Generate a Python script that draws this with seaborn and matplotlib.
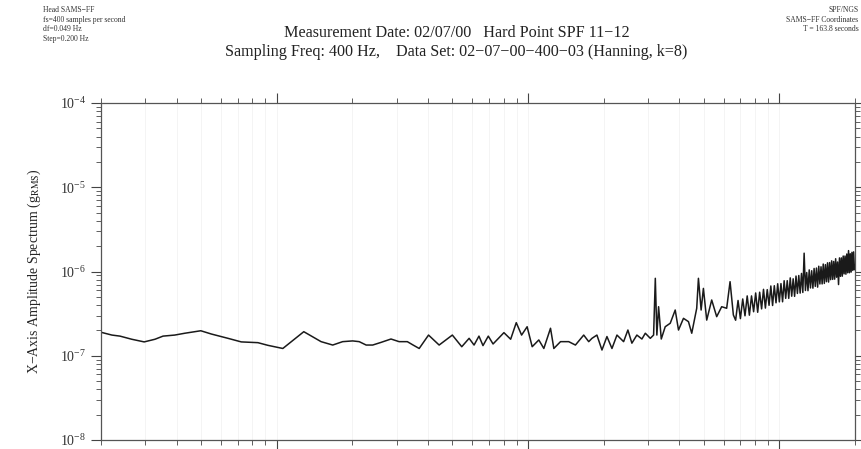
import pandas as pd
import matplotlib
matplotlib.use("Agg")
import matplotlib.pyplot as plt
import seaborn as sns
from matplotlib.ticker import LogLocator, NullFormatter

# Frequencias (Hz) e amplitude (g_RMS)
freq_low = [0.2, 0.221, 0.238, 0.265, 0.297, 0.328, 0.353, 0.393, 0.431, 0.472,
            0.499, 0.55, 0.64, 0.723, 0.842, 0.922, 1.058, 1.282, 1.502, 1.671,
            1.83, 2.006, 2.13, 2.27, 2.41, 2.60, 2.85, 3.07, 3.31, 3.49,
            3.69, 4.02, 4.43, 5.00, 5.45, 5.83, 6.10, 6.38, 6.62, 6.95,
            7.26, 8.02, 8.53, 8.98, 9.43, 9.92, 10.39, 11.04, 11.56, 12.29,
            12.67, 13.47, 14.52, 15.44, 16.66, 17.44]
amp_low = [1.90e-7, 1.76e-7, 1.71e-7, 1.57e-7, 1.46e-7, 1.57e-7, 1.71e-7, 1.76e-7, 1.85e-7, 1.93e-7,
           1.98e-7, 1.81e-7, 1.61e-7, 1.46e-7, 1.43e-7, 1.33e-7, 1.22e-7, 1.93e-7, 1.47e-7, 1.34e-7,
           1.47e-7, 1.50e-7, 1.47e-7, 1.34e-7, 1.34e-7, 1.44e-7, 1.58e-7, 1.47e-7, 1.47e-7, 1.34e-7,
           1.22e-7, 1.76e-7, 1.34e-7, 1.76e-7, 1.28e-7, 1.61e-7, 1.34e-7, 1.71e-7, 1.32e-7, 1.71e-7,
           1.38e-7, 1.88e-7, 1.57e-7, 2.47e-7, 1.76e-7, 2.21e-7, 1.28e-7, 1.54e-7, 1.22e-7, 2.12e-7,
           1.22e-7, 1.47e-7, 1.47e-7, 1.34e-7, 1.76e-7, 1.47e-7]

freq_mid = [17.97, 18.80, 19.69, 20.61, 21.58, 22.59, 24.01, 24.97, 25.90, 27.11,
            28.39, 29.29, 30.66, 31.60, 32.10, 32.56, 33.08, 33.90, 35.15, 36.80,
            38.52, 39.70, 41.55, 43.49, 44.82, 46.91, 47.65, 48.84, 49.87, 51.41,
            53.81, 56.33, 58.96, 61.72, 63.67, 65.62]
amp_mid = [1.61e-7, 1.76e-7, 1.17e-7, 1.69e-7, 1.22e-7, 1.76e-7, 1.47e-7, 2.02e-7, 1.41e-7, 1.76e-7,
           1.58e-7, 1.85e-7, 1.61e-7, 1.76e-7, 8.3e-7, 1.76e-7, 3.82e-7, 1.58e-7, 2.21e-7, 2.43e-7,
           3.49e-7, 2.02e-7, 2.78e-7, 2.54e-7, 1.85e-7, 3.66e-7, 8.3e-7, 3.49e-7, 6.3e-7, 2.65e-7,
           4.59e-7, 2.91e-7, 3.82e-7, 3.66e-7, 7.57e-7, 3.05e-7]

freq_high = [67, 68.5, 70, 71.5, 73, 74.5, 76, 77.5, 79, 80.5,
             82, 83.5, 85, 86.5, 88, 89.5, 91, 92.5, 94, 95.5,
             97, 98.5, 100, 101.5, 103, 104.5, 106, 107.5, 109, 110.5,
             112, 113.5, 115, 116.5, 118, 119.5, 121, 122.5, 124, 125.5,
             127, 128.5, 130, 131.5, 133, 134.5, 136, 137.5, 139, 140.5,
             142, 143.5, 145, 146.5, 148, 149.5, 151, 152.5, 154, 155.5,
             157, 158.5, 160, 161.5, 163, 164.5, 166, 167.5, 169, 170.5,
             172, 173.5, 175, 176.5, 178, 179.5, 181, 182.5, 184, 185.5,
             187, 188.5, 190, 191.5, 193, 194.5, 196, 197.5, 199, 200]
amp_high = [2.64e-7, 4.53e-7, 2.76e-7, 4.72e-7, 2.98e-7, 5.13e-7, 3.03e-7, 5.13e-7, 3.33e-7, 5.56e-7,
            3.28e-7, 5.68e-7, 3.60e-7, 6.14e-7, 3.68e-7, 6.09e-7, 3.97e-7, 6.73e-7, 3.95e-7, 6.78e-7,
            4.25e-7, 7.15e-7, 4.36e-7, 7.18e-7, 4.37e-7, 7.77e-7, 4.80e-7, 7.78e-7, 4.80e-7, 8.40e-7,
            5.09e-7, 8.19e-7, 5.07e-7, 8.83e-7, 5.49e-7, 8.96e-7, 5.54e-7, 9.48e-7, 5.64e-7, 1.65e-6,
            5.95e-7, 9.73e-7, 5.92e-7, 1.045e-6, 6.38e-7, 1.021e-6, 6.34e-7, 1.087e-6, 6.66e-7, 1.099e-6,
            6.52e-7, 1.155e-6, 7.11e-7, 1.138e-6, 7.12e-7, 1.226e-6, 7.22e-7, 1.206e-6, 7.57e-7, 1.268e-6,
            7.49e-7, 1.276e-6, 8.00e-7, 1.339e-6, 8.06e-7, 1.315e-6, 8.11e-7, 1.417e-6, 8.55e-7, 1.297e-6,
            7.00e-7, 1.45e-6, 8.76e-7, 1.45e-6, 8.79e-7, 1.526e-6, 9.38e-7, 1.526e-6, 9.29e-7, 1.613e-6,
            9.66e-7, 1.77e-6, 9.66e-7, 1.624e-6, 9.84e-7, 1.69e-6, 1.03e-6, 1.71e-6, 1.05e-6, 1.20e-6]

title_1 = "Measurement Date: 02/07/00   Hard Point SPF 11\u221212"
title_2 = "Sampling Freq: 400 Hz,    Data Set: 02\u221207\u221200\u2212400\u221203 (Hanning, k=8)"
info_left = ["Head SAMS\u2212FF", "fs=400 samples per second", "df=0.049 Hz", "Step=0.200 Hz"]
info_right = ["SPF/NGS", "SAMS\u2212FF Coordinates", "T = 163.8 seconds"]


def plot_spectrum(df):
    sns.set_theme(style="ticks")
    plt.rcParams["font.family"] = ["Liberation Serif", "DejaVu Serif"]
    plt.rcParams["mathtext.fontset"] = "stix"

    fig = plt.figure(figsize=(8.61, 4.49), dpi=100)
    ax = fig.add_axes([101 / 861, 9 / 449, 754 / 861, 337 / 449])
    sns.lineplot(data=df, x="freq", y="amp", ax=ax, color="#1a1a1a",
                 linewidth=1.1, sort=False, estimator=None)

    ax.set_xscale("log")
    ax.set_yscale("log")
    ax.set_xlim(0.2, 200)
    ax.set_ylim(1e-8, 1e-4)
    ax.set_xlabel("")
    ax.set_ylabel("X\u2212Axis Amplitude Spectrum (g$_{\\mathrm{RMS}}$)", fontsize=10, labelpad=12)

    ax.yaxis.set_major_locator(LogLocator(base=10, numticks=10))
    ax.yaxis.set_minor_locator(LogLocator(base=10, subs=range(2, 10), numticks=20))
    ax.xaxis.set_minor_locator(LogLocator(base=10, subs=range(2, 10), numticks=20))
    ax.xaxis.set_minor_formatter(NullFormatter())
    ax.set_xticklabels([])
    ax.tick_params(axis="both", which="both", direction="out", top=True, right=True,
                   colors="#444444", labelcolor="#333333")
    ax.tick_params(axis="both", which="major", length=7, width=0.8, labelsize=10)
    ax.tick_params(axis="both", which="minor", length=3.5, width=0.6)
    ax.grid(True, axis="x", which="both", color="#f2f2f2", linewidth=0.6)
    for s in ax.spines.values():
        s.set_color("#555555")
        s.set_linewidth(0.9)

    fig.text(0.53, 1 - 33 / 449, title_1, ha="center", va="center", fontsize=11.6, color="#222222")
    fig.text(0.53, 1 - 52 / 449, title_2, ha="center", va="center", fontsize=11.6, color="#222222")
    for i, t in enumerate(info_left):
        fig.text(43 / 861, 1 - (10 + 9.7 * i) / 449, t, ha="left", va="center", fontsize=5.5, color="#333333")
    for i, t in enumerate(info_right):
        fig.text(0.997, 1 - (10 + 9.7 * i) / 449, t, ha="right", va="center", fontsize=5.5, color="#333333")

    fig.savefig("out.png", dpi=100)


if __name__ == "__main__":
    df = pd.DataFrame({
        "freq": freq_low + freq_mid + freq_high,
        "amp": amp_low + amp_mid + amp_high,
    })
    plot_spectrum(df)
